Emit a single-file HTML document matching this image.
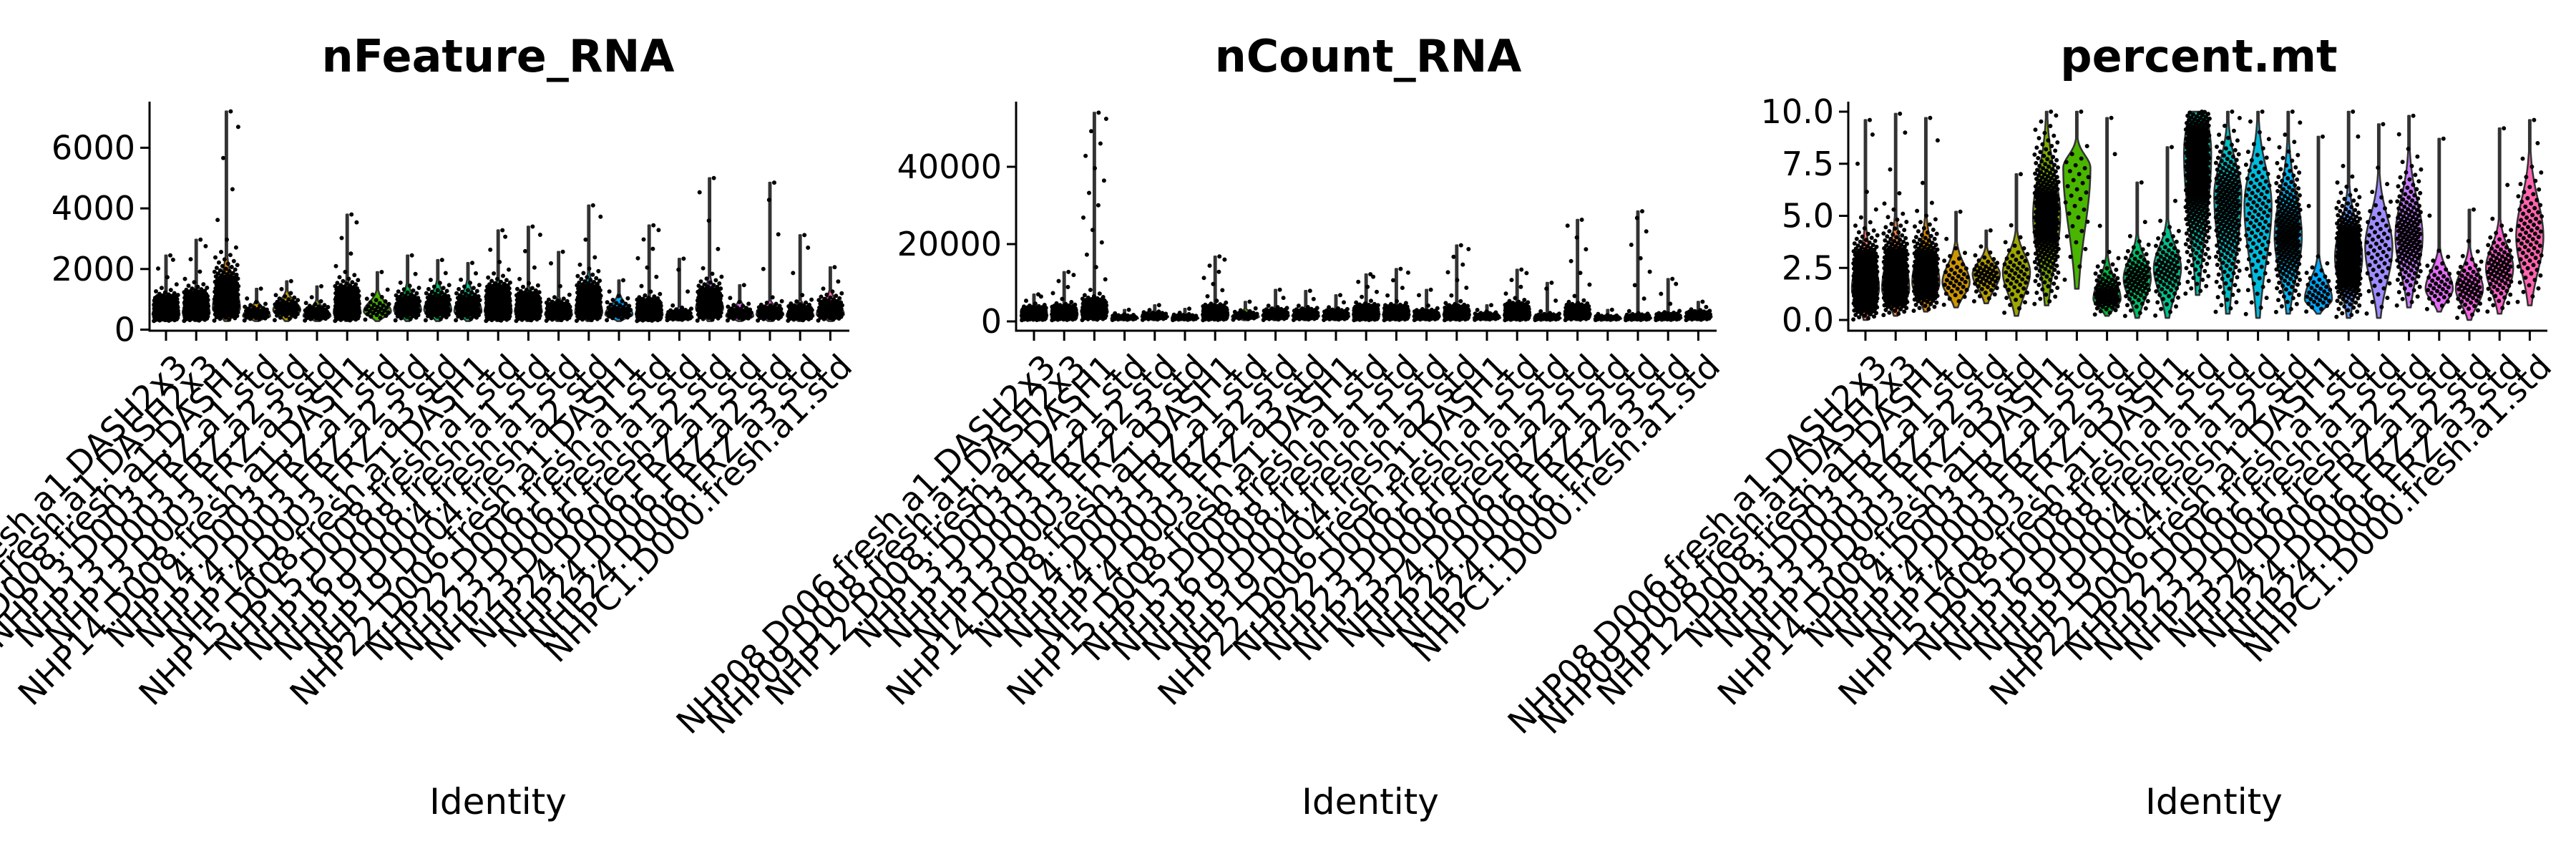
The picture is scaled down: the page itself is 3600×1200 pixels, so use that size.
<!DOCTYPE html>
<html><head><meta charset="utf-8"><style>
html,body{margin:0;padding:0;background:#fff;}
svg{display:block;font-family:"DejaVu Sans","Liberation Sans",sans-serif;}
</style></head><body>
<svg id="chart" width="3600" height="1200" viewBox="0 0 3600 1200" xmlns="http://www.w3.org/2000/svg"></svg>
<script>
const categories = ["NHP08.D006.fresh.a1.DASH2x3","NHP09.D008.fresh.a1.DASH2x3","NHP12.D008.fresh.a1.DASH1","NHP13.D003.FRZ.a1.std","NHP13.D003.FRZ.a2.std","NHP13.D003.FRZ.a3.std","NHP14.D008.fresh.a1.DASH1","NHP14.D003.FRZ.a1.std","NHP14.D003.FRZ.a2.std","NHP14.D003.FRZ.a3.std","NHP15.D008.fresh.a1.DASH1","NHP15.D008.fresh.a1.std","NHP16.D008.fresh.a1.std","NHP19.D004.fresh.a1.std","NHP19.D004.fresh.a2.std","NHP22.D006.fresh.a1.DASH1","NHP22.D006.fresh.a1.std","NHP23.D006.fresh.a1.std","NHP23.D006.fresh.a2.std","NHP24.D006.FRZ.a1.std","NHP24.D006.FRZ.a2.std","NHP24.D006.FRZ.a3.std","NHPC1.D000.fresh.a1.std"];
const pointCounts = [300,250,200,40,50,50,250,30,80,80,80,300,200,100,200,40,250,60,150,40,60,80,80];

const featMin  = [280,280,280,280,280,280,280,280,280,280,280,280,280,280,280,280,280,300,280,280,280,280,280];
const featMode = [500,550,700,450,650,450,550,600,650,650,600,600,600,500,550,500,500,400,700,450,500,450,500];
const featBody = [1100,1300,2200,900,1200,900,1500,1200,1400,1500,1500,1500,1300,1000,1700,1100,1000,700,1600,900,900,900,1200];
const featMax  = [2450,2970,7200,1350,1600,1430,3800,1900,2450,2300,2200,3280,3400,2570,4100,1630,3440,2340,5000,1470,4850,3120,2060];
const featTicks = [0,2000,4000,6000];

const countMin  = [300,300,300,300,300,300,300,300,300,300,300,300,300,300,300,300,300,300,300,300,300,300,300];
const countMode = [1500,1800,2500,800,1200,800,1700,1200,1500,1400,1300,1800,1700,1300,1700,900,1600,800,1800,700,800,900,1200];
const countBody = [3500,4000,6000,1800,2500,1800,4000,3000,3500,3500,3200,4000,4000,3000,4000,2500,4500,2000,4500,1600,2000,2200,2800];
const countMax  = [7000,12800,54000,3000,4200,3300,16800,5100,8200,7900,6800,12200,13600,8200,19700,4200,13400,10000,26300,3000,28500,11000,5100];
const countTicks = [0,20000,40000];

const mtMin  = [0,0.2,0.4,0.6,0.8,0.2,0.7,1.5,0.2,0.1,0.1,1.2,0.3,0.1,0.3,0.3,0.1,0.1,0.6,0.4,0,0.3,0.7];
const mtMode = [1.5,1.5,1.8,1.8,2.2,2.3,5,7.3,1,2,2.5,8,6,5.5,4,1,3,3.5,4,1.5,1.5,2.5,4];
const mtBody = [4,4.5,4.5,3.5,3.3,4,9,8.5,2.8,3.8,4.5,12,9,9,8,2.8,6,6.5,7.5,3.2,3.2,4.5,7.5];
const mtMax  = [9.6,9.9,9.7,5.2,4.3,7.0,10,10,9.7,6.6,8.3,10,10,10,10,8.8,10,9.4,9.8,8.7,5.3,9.2,9.6];
const mtTicks = [0,2.5,5,7.5,10];
const mtTickLabels = ["0.0","2.5","5.0","7.5","10.0"];

const NS="http://www.w3.org/2000/svg";
const svg=document.getElementById('chart');
function mk(tag,attrs,parent){const e=document.createElementNS(NS,tag);for(const k in attrs)e.setAttribute(k,attrs[k]);(parent||svg).appendChild(e);return e;}

function hcl(h,c,l){
  const Xn=0.95047,Yn=1,Zn=1.08883;
  const un=4*Xn/(Xn+15*Yn+3*Zn), vn=9*Yn/(Xn+15*Yn+3*Zn);
  const hr=h*Math.PI/180, u=c*Math.cos(hr), v=c*Math.sin(hr);
  const Y=Yn*Math.pow((l+16)/116,3);
  const up=u/(13*l)+un, vp=v/(13*l)+vn;
  const X=Y*9*up/(4*vp), Z=Y*(12-3*up-20*vp)/(4*vp);
  let r=3.2404542*X-1.5371385*Y-0.4985314*Z;
  let g=-0.9692660*X+1.8760108*Y+0.0415560*Z;
  let b=0.0556434*X-0.2040259*Y+1.0572252*Z;
  const gm=x=>{x=Math.max(0,Math.min(1,x));return x<=0.0031308?12.92*x:1.055*Math.pow(x,1/2.4)-0.055;};
  const hx=x=>('0'+Math.round(gm(x)*255).toString(16)).slice(-2);
  return '#'+hx(r)+hx(g)+hx(b);
}
const n=categories.length;
const colors=categories.map((_,i)=>hcl(15+i*360/(n+1),100,65));

const panels=[
 {name:'nfeature-rna',title:'nFeature_RNA',axisX:209,firstTick:232,y0:460.5,pxPerUnit:84.7/2000,right:1187,titleX:696,mn:featMin,mo:featMode,bo:featBody,mx:featMax,ticks:featTicks,tickLabels:featTicks.map(String),idX:696},
 {name:'ncount-rna',title:'nCount_RNA',axisX:1420,firstTick:1445,y0:449,pxPerUnit:108/20000,right:2399,titleX:1912,mn:countMin,mo:countMode,bo:countBody,mx:countMax,ticks:countTicks,tickLabels:countTicks.map(String),idX:1915},
 {name:'percent-mt',title:'percent.mt',axisX:2583,firstTick:2607,y0:447,pxPerUnit:29.1,right:3560,titleX:3073,mn:mtMin,mo:mtMode,bo:mtBody,mx:mtMax,ticks:mtTicks,tickLabels:mtTickLabels,idX:3094}
];
const spacing=42.2;

panels.forEach(p=>{
  const g=mk('g',{});
  
  
  const yS=v=>p.y0-v*p.pxPerUnit;
  const xS=i=>p.firstTick+i*spacing;
  const t=mk('text',{x:p.titleX,y:100,'text-anchor':'middle','font-size':62,'font-weight':'bold',fill:'#000'},g);
  t.textContent=p.title;
  
  
  for(let i=0;i<n;i++){
    const mn=p.mn[i],mo=p.mo[i],bo=p.bo[i],mx=p.mx[i];
    const sLo=Math.max((mo-mn)/2,(mx-mn)*0.01), sHi=Math.max((bo-mo)/2,(mx-mn)*0.01);
    const dens=v=>{const s=v<mo?sLo:sHi;return Math.exp(-0.5*Math.pow((v-mo)/s,2));};
    const steps=200, vals=[], ds=[];
    let dmax=0;
    for(let k=0;k<=steps;k++){const v=mn+(mx-mn)*k/steps;vals.push(v);const d=dens(v);ds.push(d);dmax=Math.max(dmax,d);}
    const half=0.45*spacing, cx=xS(i);
    let left=[],right=[];
    for(let k=0;k<=steps;k++){const w=Math.max(1.2,half*ds[k]/dmax);const y=yS(vals[k]);right.push((cx+w).toFixed(1)+','+y.toFixed(1));left.push((cx-w).toFixed(1)+','+y.toFixed(1));}
    const poly=mk('polygon',{points:right.concat(left.reverse()).join(' '),fill:colors[i],stroke:'#333','stroke-width':2.5,'stroke-linejoin':'round'},g);
    
    
    const cdf=[0];
    for(let k=1;k<=steps;k++){cdf.push(cdf[k-1]+(ds[k]+ds[k-1])/2/dmax+0.006);}
    const tot=cdf[steps];
    const np=pointCounts[i];
    let pts='';
    for(let k=0;k<np;k++){
      const u=((k+0.5)/np)*tot;
      let j=1;while(j<steps&&cdf[j]<u)j++;
      const f=(u-cdf[j-1])/(cdf[j]-cdf[j-1]||1);
      const v=vals[j-1]+(vals[j]-vals[j-1])*f;
      const jx=((k*0.6180339)%1)-0.5;
      const px=cx+jx*0.8*spacing, py=yS(v);
      pts+='M'+(px-3).toFixed(1)+' '+py.toFixed(1)+'a3 3 0 1 0 6 0a3 3 0 1 0 -6 0';
    }
    pts+='M'+(cx+3).toFixed(1)+' '+yS(mx).toFixed(1)+'a3 3 0 1 0 6 0a3 3 0 1 0 -6 0';
    const pp=mk('path',{d:pts,fill:'#000'},g);
    
    
  }
  const ya=mk('line',{x1:p.axisX,y1:142,x2:p.axisX,y2:463.5,stroke:'#000','stroke-width':3},g);
  
  
  const xa=mk('line',{x1:p.axisX-1.5,y1:462,x2:p.right,y2:462,stroke:'#000','stroke-width':3},g);
  
  
  p.ticks.forEach((tv,k)=>{
    const y=yS(tv);
    mk('line',{x1:p.axisX-13,y1:y,x2:p.axisX,y2:y,stroke:'#000','stroke-width':3},g);
    const tl=mk('text',{x:p.axisX-20,y:y+16,'text-anchor':'end','font-size':46,fill:'#000'},g);
    tl.textContent=p.tickLabels[k];
    
    
  });
  for(let i=0;i<n;i++){
    const x=xS(i);
    mk('line',{x1:x,y1:462,x2:x,y2:476,stroke:'#000','stroke-width':3},g);
    const lx=x+33, ly=515;
    const lab=mk('text',{x:lx,y:ly,'text-anchor':'end','font-size':46,fill:'#000',transform:'rotate(-45 '+lx+' '+ly+')'},g);
    lab.textContent=categories[i];
    
    
  }
  const id=mk('text',{x:p.idX,y:1137,'text-anchor':'middle','font-size':50,fill:'#000'},g);
  id.textContent='Identity';
  
  
});
</script>
</body></html>
